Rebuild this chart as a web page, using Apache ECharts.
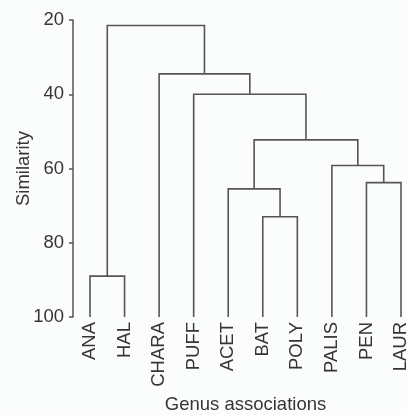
<!DOCTYPE html>
<html><head><meta charset="utf-8">
<script src="https://cdn.jsdelivr.net/npm/echarts@6/dist/echarts.min.js"></script>
<style>html,body{margin:0;padding:0;background:#fbfcfc;}#c{width:407px;height:415px;}</style>
</head><body><div id="c"></div>
<script>
// Leaves (genus associations), left to right
const leaves = ['ANA','HAL','CHARA','PUFF','ACET','BAT','POLY','PALIS','PEN','LAUR'];
// Merges: [nodeA, nodeB, similarity]; leaves are nodes 0-9, merge k is node 10+k
const mergeA = [5, 4, 8, 7, 11, 3, 2, 0, 17];
const mergeB = [6, 10, 9, 12, 13, 14, 15, 1, 16];
const mergeHeight = [73.0, 65.5, 63.8, 59.2, 52.3, 40.0, 34.5, 89.0, 21.5];
const leafHeight = 100;
const yTicks = [20, 40, 60, 80, 100];

// Build U-shaped links in data space
const nodeX = leaves.map((_, i) => i);
const nodeY = leaves.map(() => leafHeight);
const links = [];
for (let k = 0; k < mergeA.length; k++) {
  const a = mergeA[k], b = mergeB[k], h = mergeHeight[k];
  links.push([nodeX[a], nodeY[a], nodeX[b], nodeY[b], h]);
  nodeX.push((nodeX[a] + nodeX[b]) / 2);
  nodeY.push(h);
}

const chart = echarts.init(document.getElementById('c'), null, {renderer: 'canvas'});
const font = 'Liberation Sans, Arial, Helvetica, sans-serif';
const txt = '#353535';
chart.setOption({
  backgroundColor: '#fbfcfc',
  animation: false,
  grid: {left: 90, right: 6, top: 20, bottom: 98, containLabel: false, outerBoundsMode: 'none'},
  xAxis: {
    type: 'value', min: 0, max: leaves.length - 1, interval: 1,
    name: 'Genus associations', nameLocation: 'middle', nameGap: 78, nameMoveOverlap: false,
    nameTextStyle: {fontFamily: font, fontSize: 18.5, color: txt},
    axisLine: {show: false}, axisTick: {show: false}, splitLine: {show: false},
    axisLabel: {
      rotate: 90, margin: 5, fontFamily: font, fontSize: 18.5, color: txt,
      formatter: v => leaves[v] || ''
    }
  },
  yAxis: {
    type: 'value', inverse: true, min: yTicks[0], max: yTicks[yTicks.length - 1], interval: 20,
    offset: 17,
    name: 'Similarity', nameLocation: 'middle', nameGap: 40, nameMoveOverlap: false,
    nameTextStyle: {fontFamily: font, fontSize: 18.5, color: txt},
    axisLine: {show: true, onZero: false, lineStyle: {color: '#555', width: 1.5}},
    axisTick: {show: true, length: 4, lineStyle: {color: '#555', width: 1.5}},
    splitLine: {show: false},
    axisLabel: {margin: 9, fontFamily: font, fontSize: 18.5, color: txt}
  },
  series: [{
    type: 'custom',
    data: links,
    renderItem: function (params, api) {
      const p1 = api.coord([api.value(0), api.value(1)]);
      const p1t = api.coord([api.value(0), api.value(4)]);
      const p2t = api.coord([api.value(2), api.value(4)]);
      const p2 = api.coord([api.value(2), api.value(3)]);
      return {
        type: 'polyline',
        shape: {points: [p1, p1t, p2t, p2]},
        style: {stroke: '#555', lineWidth: 1.6, fill: null}
      };
    }
  }]
});
</script></body></html>
